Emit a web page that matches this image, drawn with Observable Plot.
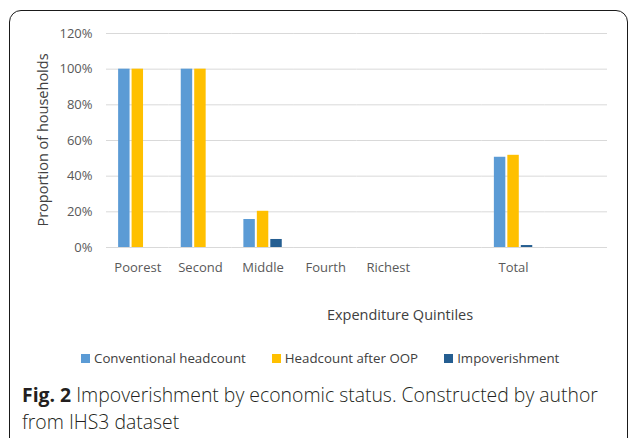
<!DOCTYPE html>
<html>
<head>
<meta charset="utf-8">
<script src="https://cdn.jsdelivr.net/npm/d3@7"></script>
<script src="https://cdn.jsdelivr.net/npm/@observablehq/plot@0.6"></script>
<style>
  html, body { margin: 0; padding: 0; background: #fff; overflow: hidden; }
  #wrap { position: relative; width: 629px; height: 438px; font-family: "Open Sans", sans-serif; }
  #box { position: absolute; left: 9px; top: 10px; width: 617px; height: 440px; border: 1.5px solid #1a1a1a; border-radius: 12px; }
  #chart { position: absolute; left: 0; top: 0; }
  .ytitle { position: absolute; left: 42px; top: 140px; transform: translate(-50%, -50%) rotate(-90deg); font-size: 14.5px; color: #404040; white-space: nowrap; }
  .xtitle { position: absolute; left: 400px; top: 314px; transform: translate(-50%, -50%); font-size: 14.5px; color: #404040; white-space: nowrap; }
  #legend { position: absolute; left: 81px; top: 349px; display: flex; gap: 26px; font-size: 13.3px; color: #404040; white-space: nowrap; }
  #legend .item { display: flex; align-items: center; }
  #legend .sw { width: 9px; height: 9px; margin-right: 4px; }
  #caption { position: absolute; left: 22px; top: 381px; font-size: 19.4px; line-height: 27px; font-weight: 300; color: #231f20; width: 610px; white-space: nowrap; }
  #caption b { font-weight: 700; }
</style>
</head>
<body>
<div id="wrap">
  <div id="box"></div>
  <div id="chart"></div>
  <div class="ytitle">Proportion of households</div>
  <div class="xtitle">Expenditure Quintiles</div>
  <div id="legend"></div>
  <div id="caption"><b>Fig. 2</b> Impoverishment by economic status. Constructed by author<br>from IHS3 dataset</div>
</div>
<script>
// Category slots along the x axis (blank slots are empty positions in the original chart)
const slots = ["Poorest", "Second", "Middle", "Fourth", "Richest", " ", "Total", "  "];
const series = ["Conventional headcount", "Headcount after OOP", "Impoverishment"];
const colors = ["#5B9BD5", "#FFC000", "#255E91"];
// Values in percent
const conventional = [100, 100, 15.7, 0, 0, null, 50.6, null];
const afterOOP = [100, 100, 20.3, 0, 0, null, 51.7, null];
const impoverishment = [0, 0, 4.5, 0, 0, null, 1.1, null];
const yTicks = [0, 20, 40, 60, 80, 100, 120];

const valuesBySeries = [conventional, afterOOP, impoverishment];
const rows = [];
slots.forEach((slot, i) => {
  series.forEach((s, j) => {
    rows.push({slot, series: s, value: valuesBySeries[j][i]});
  });
});

const chart = Plot.plot({
  width: 629,
  height: 285,
  marginLeft: 106,
  marginRight: 22,
  marginTop: 33,
  marginBottom: 38,
  style: {fontFamily: "Open Sans, sans-serif", fontSize: "13px", color: "#595959", background: "transparent"},
  facet: {data: rows, x: "slot"},
  fx: {domain: slots, padding: 0, round: false, axis: "bottom", tickSize: 0, tickPadding: 15, label: null},
  x: {domain: series, paddingInner: 0.15, paddingOuter: 0.9, round: false, axis: null},
  y: {domain: [0, 120], ticks: yTicks, tickFormat: d => d + "%", tickSize: 0, tickPadding: 14, label: null},
  color: {domain: series, range: colors},
  marks: [
    Plot.ruleY(yTicks, {stroke: "#d9d9d9", strokeWidth: 1}),
    Plot.barY(rows, {x: "series", y: "value", fill: "series"})
  ]
});
document.getElementById("chart").appendChild(chart);

const legend = document.getElementById("legend");
series.forEach((s, i) => {
  const item = document.createElement("div");
  item.className = "item";
  const sw = document.createElement("span");
  sw.className = "sw";
  sw.style.background = colors[i];
  const label = document.createElement("span");
  label.textContent = s;
  item.appendChild(sw);
  item.appendChild(label);
  legend.appendChild(item);
});
</script>
</body>
</html>
